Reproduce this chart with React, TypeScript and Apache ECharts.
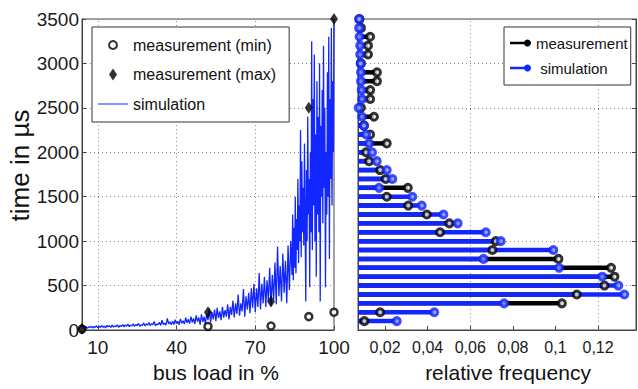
import React, { useEffect, useRef } from 'react';
import * as echarts from 'echarts';

// ---- left panel: bus load vs. time ----
const loadTicks = [10, 40, 70, 100];
const loadGrid = [10, 40, 70];
const LOAD_MIN = 4;
const LOAD_MAX = 100;
const TIME_MIN = 0;
const TIME_MAX = 3500;
const TIME_STEP = 500;

const minLoad = [4, 52, 76, 90.4, 100];
const minTime = [10, 40, 45, 150, 200];
const maxLoad = [4, 52, 76, 90.4, 100];
const maxTime = [15, 200, 320, 2500, 3500];

const simulation: number[][] = [
  [4, 20], [4.5, 38], [5, 22], [5.5, 41], [6, 18], [6.5, 35], [7, 27], [7.5, 44], [8, 23], [8.5, 39], [9, 30], [9.5, 47],
  [10, 26], [10.5, 42], [11, 28], [11.5, 50], [12, 31], [12.5, 45], [13, 24], [13.5, 52], [14, 36], [14.5, 48], [15, 30], [15.5, 55],
  [16, 33], [16.5, 46], [17, 38], [17.5, 58], [18, 29], [18.5, 51], [19, 40], [19.5, 60], [20, 35], [20.5, 57], [21, 42], [21.5, 66],
  [22, 38], [22.5, 54], [23, 45], [23.5, 70], [24, 40], [24.5, 62], [25, 48], [25.5, 75], [26, 43], [26.5, 58], [27, 52], [27.5, 80],
  [28, 46], [28.5, 68], [29, 55], [29.5, 85], [30, 50], [30.5, 72], [31, 58], [31.5, 95], [32, 47], [32.5, 66], [33, 60], [33.5, 88],
  [34, 52], [34.5, 110], [35, 62], [35.5, 78], [36, 55], [36.5, 130], [37, 68], [37.5, 92], [38, 58], [38.5, 100], [39, 62], [39.5, 115],
  [40, 70], [40.5, 98], [41, 60], [41.5, 125], [42, 75], [42.5, 105], [43, 66], [43.5, 140], [44, 80], [44.5, 120], [45, 72], [45.5, 150],
  [46, 85], [46.5, 130], [47, 68], [47.5, 165], [48, 95], [48.5, 140], [49, 60], [49.5, 175], [50, 90], [50.5, 150], [51, 70], [51.5, 185],
  [52, 110], [52.5, 240], [53, 85], [53.5, 205], [54, 120], [54.5, 230], [55, 100], [55.5, 250], [56, 135], [56.5, 210], [57, 110], [57.5, 260],
  [58, 140], [58.5, 225], [59, 150], [59.5, 290], [60, 120], [60.5, 260], [61, 170], [61.5, 330], [62, 140], [62.5, 300], [63, 180], [63.5, 400],
  [64, 160], [64.5, 300], [65, 210], [65.5, 460], [66, 150], [66.5, 380], [67, 230], [67.5, 420], [68, 190], [68.5, 470], [69, 250], [69.5, 520],
  [70, 200], [70.5, 470], [71, 260], [71.5, 640], [72, 230], [72.5, 520], [73, 300], [73.5, 600], [74, 260], [74.5, 560], [75, 330], [75.5, 700],
  [76, 270], [76.5, 620], [77, 340], [77.5, 760], [78, 290], [78.5, 940], [79, 380], [79.5, 720], [80, 320], [80.5, 860], [81, 420], [81.5, 780],
  [82, 300], [82.5, 950], [83, 450], [83.5, 1000], [84, 620],
  [84.25, 1300], [84.5, 560], [84.75, 1150], [85, 700], [85.25, 1500], [85.5, 640], [85.75, 1250], [86, 900], [86.25, 1700], [86.5, 750],
  [86.75, 1400], [87, 1000], [87.25, 2250], [87.5, 820], [87.75, 1900], [88, 1100], [88.25, 1600], [88.5, 950], [88.75, 2100], [89, 1200],
  [89.25, 320], [89.5, 1800], [89.75, 1000], [90, 2400], [90.25, 1300], [90.5, 1700], [90.75, 480], [91, 2000], [91.25, 1100], [91.5, 3250],
  [91.75, 900], [92, 2600], [92.25, 1400], [92.5, 3100], [92.75, 1000], [93, 2200], [93.25, 600], [93.5, 2800], [93.75, 1300], [94, 2400],
  [94.25, 1100], [94.5, 3000], [94.75, 320], [95, 2300], [95.25, 1500], [95.5, 2700], [95.75, 1200], [96, 3200], [96.25, 1600], [96.5, 2500],
  [96.75, 480], [97, 2000], [97.25, 1300], [97.5, 2900], [97.75, 1500], [98, 3300], [98.25, 800], [98.5, 2600], [98.75, 1700], [99, 3400],
  [99.25, 1400], [99.5, 2800], [99.75, 2000], [100, 3450],
];

// ---- right panel: histogram of relative frequency per time bin ----
const binTimes = [
  3500, 3400, 3300, 3200, 3100, 3000, 2900, 2800, 2700, 2600, 2500, 2400,
  2300, 2200, 2100, 2000, 1900, 1800, 1700, 1600, 1500, 1400, 1300, 1200,
  1100, 1000, 900, 800, 700, 600, 500, 400, 300, 200, 100,
];
const measFreq = [
  0.0080, 0.0087, 0.0130, 0.0120, 0.0120, 0.0087, 0.0162, 0.0162, 0.0130, 0.0130, 0.0087, 0.0148,
  0.0101, 0.0130, 0.0208, 0.0111, 0.0125, 0.0177, 0.0203, 0.0307, 0.0208, 0.0309, 0.0396, 0.0502,
  0.0458, 0.0720, 0.0704, 0.1014, 0.1261, 0.1277, 0.1230, 0.1100, 0.1030, 0.0177, 0.0103,
];
const simFreq = [
  0.0078, 0.0078, 0.0080, 0.0083, 0.0083, 0.0085, 0.0087, 0.0087, 0.0090, 0.0092, 0.0076, 0.0092,
  0.0101, 0.0111, 0.0125, 0.0139, 0.0161, 0.0208, 0.0234, 0.0172, 0.0328, 0.0372, 0.0474, 0.0541,
  0.0673, 0.0743, 0.0990, 0.0662, 0.1017, 0.1220, 0.1295, 0.1323, 0.0759, 0.0431, 0.0255,
];
const freqTicks = [0.02, 0.04, 0.06, 0.08, 0.1, 0.12];
const freqGrid = [0.0618, 0.1158];
const FREQ_MIN = 0.0073;
const FREQ_MAX = 0.1378;

const BLUE = '#1226ff';
const SANS = "'Liberation Sans', Arial, sans-serif";
const GRID_LINE = { color: '#8a8a8a', width: 1, type: [1, 3] as number[] };
const STEM_ICON = 'path://M0,3.5 L17,3.5 L17,6.5 L0,6.5 Z M24,5 A4,4 0 1,1 24,4.99 Z';

const zip = (a: number[], b: number[]) => a.map((v, i) => [v, b[i]]);

function stemSeries(name: string, freqs: number[], color: string, width: number, z: number) {
  return {
    type: 'custom',
    name,
    xAxisIndex: 1,
    yAxisIndex: 1,
    z,
    itemStyle: { color },
    data: zip(freqs, binTimes),
    renderItem: (_p: any, api: any) => {
      const t = api.value(1);
      const s = api.coord([FREQ_MIN, t]);
      const e = api.coord([api.value(0), t]);
      return {
        type: 'line',
        shape: { x1: s[0], y1: s[1], x2: e[0], y2: e[1] },
        style: { stroke: color, lineWidth: width },
      };
    },
  };
}

export default function App() {
  const ref = useRef<HTMLDivElement>(null);
  useEffect(() => {
    if (!ref.current) return;
    const chart = echarts.init(ref.current, undefined, { renderer: 'svg' });
    const option: any = {
      animation: false,
      backgroundColor: '#ffffff',
      grid: [
        { left: 82, top: 19, width: 252, height: 311, show: true, borderColor: '#444', borderWidth: 1, backgroundColor: 'transparent' },
        { left: 358, top: 19, width: 278, height: 311, show: true, borderColor: '#444', borderWidth: 1, backgroundColor: 'transparent' },
      ],
      xAxis: [
        {
          gridIndex: 0, type: 'value', min: LOAD_MIN, max: LOAD_MAX,
          name: 'bus load in %', nameLocation: 'middle', nameGap: 32,
          nameTextStyle: { fontSize: 21, fontFamily: SANS, color: '#111', padding: [0, 0, 0, 16] },
          axisLine: { lineStyle: { color: '#444' } },
          axisTick: { inside: true, length: 4, customValues: loadTicks, lineStyle: { color: '#444' } },
          axisLabel: { customValues: loadTicks, fontSize: 19, fontFamily: SANS, color: '#1a1a1a', margin: 8 },
          splitLine: { show: false },
        },
        {
          gridIndex: 1, type: 'value', min: FREQ_MIN, max: FREQ_MAX,
          name: 'relative frequency', nameLocation: 'middle', nameGap: 32,
          nameTextStyle: { fontSize: 21, fontFamily: SANS, color: '#111', padding: [0, 0, 0, 22] },
          axisLine: { lineStyle: { color: '#444' } },
          axisTick: { inside: true, length: 4, customValues: freqTicks, lineStyle: { color: '#444' } },
          axisLabel: {
            customValues: freqTicks, fontSize: 16, fontFamily: SANS, color: '#1a1a1a', margin: 9,
            formatter: (v: number) => String(+v.toFixed(2)).replace('.', ','),
          },
          splitLine: { show: false },
        },
      ],
      yAxis: [
        {
          gridIndex: 0, type: 'value', min: TIME_MIN, max: TIME_MAX, interval: TIME_STEP,
          name: 'time in µs', nameLocation: 'middle', nameRotate: 90, nameGap: 48,
          nameTextStyle: { fontSize: 26, fontFamily: SANS, color: '#111', padding: [0, 0, 0, 18] },
          axisLine: { show: true, lineStyle: { color: '#444' } },
          axisTick: { show: true, inside: true, length: 4, lineStyle: { color: '#444' } },
          axisLabel: { fontSize: 19, fontFamily: SANS, color: '#1a1a1a', margin: 3, formatter: (v: number) => String(v) },
          splitLine: { show: true, lineStyle: GRID_LINE },
        },
        {
          gridIndex: 1, type: 'value', min: TIME_MIN, max: TIME_MAX, interval: TIME_STEP,
          axisLine: { show: true, lineStyle: { color: '#444' } },
          axisTick: { show: true, inside: true, length: 4, lineStyle: { color: '#444' } },
          axisLabel: { show: false },
          splitLine: { show: true, lineStyle: GRID_LINE },
        },
        {
          gridIndex: 1, type: 'value', position: 'right', min: TIME_MIN, max: TIME_MAX, interval: TIME_STEP,
          axisLine: { show: true, lineStyle: { color: '#444' } },
          axisTick: { show: true, inside: true, length: 4, lineStyle: { color: '#444' } },
          axisLabel: { show: false },
          splitLine: { show: false },
        },
      ],
      legend: [
        {
          orient: 'vertical', left: 92, top: 27, padding: [8, 13, 8, 6], itemGap: 9.5,
          itemWidth: 30, itemHeight: 12, borderColor: '#333', borderWidth: 1, backgroundColor: '#fff',
          textStyle: { fontSize: 16, fontFamily: SANS, color: '#111', lineHeight: 20 },
          data: [
            { name: 'measurement (min)', icon: 'path://M0,0 M12,12 M10,6 A4,4 0 1,1 10,5.99 Z' },
            { name: 'measurement (max)', icon: 'path://M4,0 L8,6 L4,12 L0,6 Z' },
            { name: 'simulation', icon: 'path://M0,0 M30,12 M0,5.5 L30,5.5 L30,6.5 L0,6.5 Z', itemStyle: { color: BLUE } },
          ],
        },
        {
          orient: 'vertical', left: 504, top: 27, padding: [6, 3, 7, 6], itemGap: 5,
          itemWidth: 21, itemHeight: 9, borderColor: '#333', borderWidth: 1, backgroundColor: '#fff',
          textStyle: { fontSize: 15, fontFamily: SANS, color: '#111', lineHeight: 20 },
          data: [
            { name: 'measurement', icon: STEM_ICON, itemStyle: { color: '#000' } },
            { name: ' simulation', icon: STEM_ICON, itemStyle: { color: BLUE } },
          ],
        },
      ],
      series: [
        {
          type: 'line', name: 'simulation', xAxisIndex: 0, yAxisIndex: 0, z: 3,
          data: simulation, symbol: 'none', showSymbol: false,
          lineStyle: { color: BLUE, width: 1.3 }, itemStyle: { color: BLUE },
          markLine: {
            silent: true, z: 1, symbol: ['none', 'none'], label: { show: false },
            lineStyle: GRID_LINE, data: loadGrid.map((v) => ({ xAxis: v })),
          },
        },
        {
          type: 'scatter', name: 'measurement (min)', xAxisIndex: 0, yAxisIndex: 0, z: 4,
          data: zip(minLoad, minTime), symbol: 'circle', symbolSize: 7,
          itemStyle: { color: '#fff', borderColor: '#000', borderWidth: 2.5 },
        },
        {
          type: 'scatter', name: 'measurement (max)', xAxisIndex: 0, yAxisIndex: 0, z: 4,
          data: zip(maxLoad, maxTime), symbol: 'diamond', symbolSize: [8, 12],
          itemStyle: { color: '#000' },
        },
        stemSeries('measurement', measFreq, '#000', 4.5, 2),
        stemSeries(' simulation', simFreq, BLUE, 4.5, 3),
        {
          type: 'scatter', xAxisIndex: 1, yAxisIndex: 1, z: 4,
          data: zip(measFreq, binTimes), symbol: 'circle', symbolSize: 7,
          itemStyle: { color: '#e8e8e8', borderColor: '#000', borderWidth: 3 },
        },
        {
          type: 'scatter', xAxisIndex: 1, yAxisIndex: 1, z: 5,
          data: zip(simFreq, binTimes), symbol: 'circle', symbolSize: 7,
          itemStyle: { color: '#8f9cff', borderColor: BLUE, borderWidth: 3 },
          markLine: {
            silent: true, z: 1, symbol: ['none', 'none'], label: { show: false },
            lineStyle: GRID_LINE, data: freqGrid.map((v) => ({ xAxis: v })),
          },
        },
      ],
    };
    chart.setOption(option);
    return () => chart.dispose();
  }, []);
  return <div ref={ref} style={{ width: 638, height: 389, position: 'absolute', left: 0, top: 0 }} />;
}
